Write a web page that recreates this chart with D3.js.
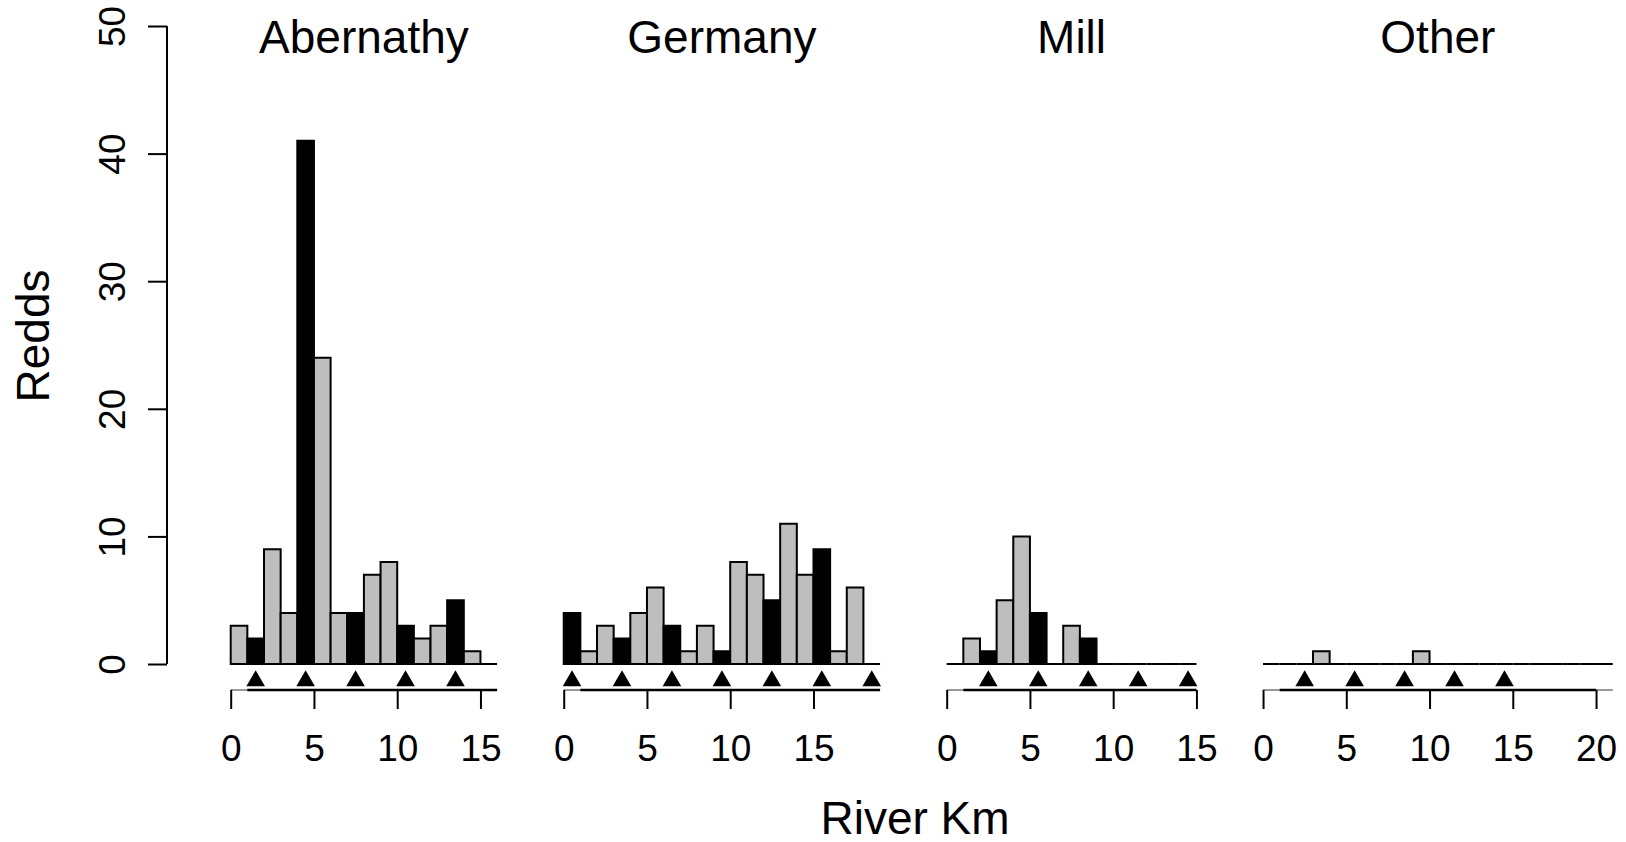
<!DOCTYPE html>
<html>
<head>
<meta charset="utf-8">
<script src="https://cdn.jsdelivr.net/npm/d3@7"></script>
<style>
  body { margin: 0; background: #fff; }
  text { font-family: "Liberation Sans", Arial, sans-serif; fill: #000; }
</style>
</head>
<body>
<svg id="chart" width="1626" height="842"></svg>
<script>
// Streams (panels) in plot order
const streams = ["Abernathy", "Germany", "Mill", "Other"];

// Redds per 1-km bin, starting at km 0
const abernathyRedds = [3, 2, 9, 4, 41, 24, 4, 4, 7, 8, 3, 2, 3, 5, 1, 0];
const germanyRedds = [4, 1, 3, 2, 4, 6, 3, 1, 3, 1, 8, 7, 5, 11, 7, 9, 1, 6, 0];
const millRedds = [0, 2, 1, 5, 10, 4, 0, 3, 2, 0, 0, 0, 0, 0, 0];
const otherRedds = [0, 0, 0, 1, 0, 0, 0, 0, 0, 1, 0, 0, 0, 0, 0, 0, 0, 0, 0, 0, 0];

// Sample site locations (river km) shown as triangles
const abernathySites = [1.5, 4.5, 7.5, 10.5, 13.5];
const germanySites = [0.5, 3.5, 6.5, 9.5, 12.5, 15.5, 18.5];
const millSites = [2.5, 5.5, 8.5, 11.5, 14.5];
const otherSites = [2.5, 5.5, 8.5, 11.5, 14.5];

// x tick labels per panel
const abernathyTicks = [0, 5, 10, 15];
const germanyTicks = [0, 5, 10, 15];
const millTicks = [0, 5, 10, 15];
const otherTicks = [0, 5, 10, 15, 20];

// surveyed reach (thick line under the sites), km
const reachStart = [1, 1, 1, 1];
const reachEnd = [16, 19, 15, 20];

// y axis ticks
const yTicks = [0, 10, 20, 30, 40, 50];

const redds = [abernathyRedds, germanyRedds, millRedds, otherRedds];
const sites = [abernathySites, germanySites, millSites, otherSites];
const ticks = [abernathyTicks, germanyTicks, millTicks, otherTicks];

const svg = d3.select("#chart");
const gapKm = 4;

// panel offsets along one continuous km axis
const extents = redds.map(r => r.length);
const offsets = [];
let acc = 0;
extents.forEach(e => { offsets.push(acc); acc += e + gapKm; });
const totalKm = acc - gapKm;

const x = d3.scaleLinear().domain([0, totalKm]).range([230.7, 1612.7]);
const y = d3.scaleLinear().domain([0, 50]).range([664, 26]);

const triY = 681;
const axisY = 690;
const tickLen = 19;
const tickFont = 37;

// y axis
const yAxis = svg.append("g")
  .attr("transform", "translate(167,0)")
  .call(d3.axisLeft(y).tickValues(yTicks).tickSize(tickLen).tickSizeOuter(0).tickFormat(d3.format("d")));
yAxis.select(".domain").attr("stroke", "#000").attr("stroke-width", 2)
  .attr("d", `M0,${y(0)}V${y(50)}`);
yAxis.selectAll(".tick line").attr("stroke", "#000").attr("stroke-width", 2);
yAxis.selectAll(".tick text")
  .attr("font-size", tickFont)
  .attr("font-family", "Liberation Sans, Arial, sans-serif")
  .attr("x", null).attr("dy", null)
  .attr("text-anchor", "middle")
  .attr("transform", `translate(${-tickLen - 23},0) rotate(-90)`);

streams.forEach((name, i) => {
  const off = offsets[i];
  const px = km => x(off + km);
  const siteBins = new Set(sites[i].map(s => Math.floor(s)));
  const g = svg.append("g").attr("class", "panel");

  // bars as closed paths, so empty bins still stroke the baseline
  g.selectAll("path.bar")
    .data(redds[i])
    .enter()
    .append("path")
    .attr("class", "bar")
    .attr("d", (d, k) => `M${px(k)},${y(0)}V${y(d)}H${px(k + 1)}V${y(0)}Z`)
    .attr("fill", (d, k) => siteBins.has(k) ? "#000" : "#bebebe")
    .attr("stroke", "#000")
    .attr("stroke-width", 2)
    .attr("stroke-linejoin", "miter");

  // site triangles
  g.selectAll("path.site")
    .data(sites[i])
    .enter()
    .append("path")
    .attr("class", "site")
    .attr("d", d3.symbol(d3.symbolTriangle, 150))
    .attr("transform", d => `translate(${px(d)},${triY})`)
    .attr("fill", "#000");

  // thin line over the full panel, thick line over the reach
  g.append("line")
    .attr("x1", px(0)).attr("x2", px(extents[i]))
    .attr("y1", axisY).attr("y2", axisY)
    .attr("stroke", "#777").attr("stroke-width", 1.5);
  g.append("line")
    .attr("x1", px(reachStart[i])).attr("x2", px(reachEnd[i]))
    .attr("y1", axisY).attr("y2", axisY)
    .attr("stroke", "#000").attr("stroke-width", 2.5);

  // x axis ticks and labels
  const sx = d3.scaleLinear().domain([0, 1]).range([px(0), px(1)]);
  const xAxis = g.append("g")
    .attr("transform", `translate(0,${axisY})`)
    .call(d3.axisBottom(sx).tickValues(ticks[i]).tickSize(tickLen).tickSizeOuter(0).tickFormat(d3.format("d")));
  xAxis.select(".domain").remove();
  xAxis.selectAll(".tick line").attr("stroke", "#000").attr("stroke-width", 2);
  xAxis.selectAll(".tick text")
    .attr("font-size", tickFont)
    .attr("font-family", "Liberation Sans, Arial, sans-serif")
    .attr("y", 71).attr("dy", null);

  // panel title
  g.append("text")
    .attr("x", (px(0) + px(extents[i])) / 2)
    .attr("y", 53)
    .attr("text-anchor", "middle")
    .attr("font-size", 46)
    .text(name);
});

// axis titles
svg.append("text")
  .attr("transform", "translate(49,336) rotate(-90)")
  .attr("text-anchor", "middle")
  .attr("font-size", 46)
  .text("Redds");

svg.append("text")
  .attr("x", 915)
  .attr("y", 834)
  .attr("text-anchor", "middle")
  .attr("font-size", 46)
  .text("River Km");
</script>
</body>
</html>
